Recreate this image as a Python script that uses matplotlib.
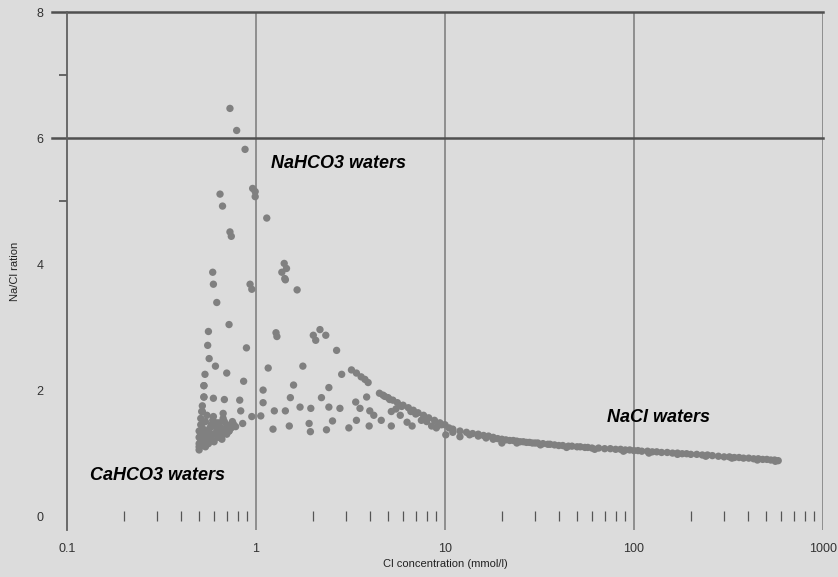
import numpy as np
import matplotlib
matplotlib.use('Agg')
import matplotlib.pyplot as plt
from matplotlib.ticker import LogLocator, FixedLocator, NullFormatter

# Cl concentration (mmol/l) and Na/Cl ratio
# spike of low-Cl samples
cl_low = [0.728, 0.79, 0.875, 0.96, 0.99, 0.99, 0.645, 0.665, 1.14, 0.728, 0.74,
          0.59, 1.41, 1.45, 1.37, 1.42, 1.43, 0.595, 0.62, 0.93, 0.95, 1.65,
          0.72, 0.56, 0.555, 0.565, 0.61, 0.89, 1.276, 1.29, 2.01, 2.07, 2.18, 2.34,
          2.67, 0.537, 0.70, 1.16, 1.77, 2.84]
ratio_low = [6.47, 6.12, 5.82, 5.20, 5.15, 5.07, 5.11, 4.92, 4.73, 4.51, 4.44,
             3.87, 4.01, 3.93, 3.87, 3.77, 3.75, 3.68, 3.39, 3.68, 3.60, 3.59,
             3.04, 2.93, 2.71, 2.50, 2.38, 2.67, 2.91, 2.85, 2.87, 2.79, 2.96, 2.87,
             2.63, 2.25, 2.27, 2.35, 2.38, 2.25]

# middle band, 0.5 - 10 mmol/l
cl_mid = [3.2, 3.4, 3.6, 3.77, 3.92, 0.53, 0.86, 1.09, 1.58, 2.43,
          4.5, 4.7, 5.0, 5.3, 5.6, 6.0, 6.4, 6.8, 7.2, 7.7, 8.2, 8.8, 9.4,
          0.53, 0.595, 0.68, 0.82, 1.09, 1.52, 2.22, 3.37, 3.55, 3.85,
          0.516, 0.67, 0.595, 0.83, 0.95, 1.06, 1.25, 1.43, 1.71, 1.95, 2.43, 2.78,
          4.0, 5.2, 5.8, 0.68, 0.76, 0.85, 0.72, 1.23, 1.50, 1.91, 1.94, 2.36, 2.54,
          3.1, 3.4, 3.97, 4.6, 5.2, 6.3, 6.7, 8.5, 7.5, 9.0, 9.6, 5.5, 4.2,
          4.8, 5.1, 5.9, 6.6, 7.0, 7.9, 8.0, 9.2]
ratio_mid = [2.32, 2.27, 2.21, 2.17, 2.12, 2.07, 2.14, 2.00, 2.08, 2.04,
             1.95, 1.92, 1.88, 1.84, 1.80, 1.76, 1.72, 1.68, 1.64, 1.60, 1.56, 1.52, 1.48,
             1.89, 1.87, 1.85, 1.84, 1.80, 1.88, 1.88, 1.81, 1.71, 1.89,
             1.66, 1.63, 1.58, 1.67, 1.58, 1.59, 1.67, 1.67, 1.73, 1.71, 1.73, 1.71,
             1.67, 1.66, 1.60, 1.50, 1.46, 1.47, 1.35, 1.38, 1.43, 1.47, 1.34, 1.37, 1.51,
             1.40, 1.52, 1.43, 1.52, 1.43, 1.49, 1.43, 1.43, 1.52, 1.40, 1.45, 1.70, 1.60,
             1.90, 1.85, 1.74, 1.66, 1.62, 1.55, 1.50, 1.44]

# dense cluster near 0.5 mmol/l
cl_cluster = [0.50, 0.50, 0.50, 0.51, 0.50, 0.51, 0.52, 0.52, 0.53, 0.53, 0.54, 0.54,
              0.55, 0.55, 0.56, 0.56, 0.57, 0.58, 0.58, 0.60, 0.60, 0.62, 0.63, 0.65,
              0.66, 0.68, 0.70, 0.72, 0.51, 0.51, 0.52, 0.52, 0.53, 0.53, 0.54, 0.55,
              0.57, 0.59, 0.61, 0.64, 0.67, 0.75, 0.78, 0.50, 0.52, 0.54, 0.56, 0.59,
              0.62, 0.66, 0.70, 0.74]
ratio_cluster = [1.05, 1.10, 1.15, 1.20, 1.25, 1.30, 1.12, 1.22, 1.18, 1.28, 1.10, 1.35,
                 1.20, 1.25, 1.15, 1.30, 1.40, 1.22, 1.45, 1.30, 1.18, 1.35, 1.25, 1.40,
                 1.30, 1.38, 1.45, 1.35, 1.45, 1.55, 1.66, 1.75, 1.89, 2.07, 1.50, 1.60,
                 1.28, 1.52, 1.42, 1.48, 1.55, 1.50, 1.42, 1.35, 1.40, 1.26, 1.36, 1.30,
                 1.48, 1.22, 1.30, 1.40]

# NaCl tail
cl_tail = [10, 10.5, 11, 12, 13, 14, 15, 16, 18, 20, 22, 24, 26, 28, 30, 33, 36, 40,
           45, 50, 55, 60, 70, 80, 90, 100, 110, 125, 140, 160, 180, 200, 230, 260,
           300, 340, 380, 430, 480, 530, 580, 10.1, 12, 20, 11, 15, 18,
           17, 19, 21, 23, 25, 27, 29, 31, 35, 38, 42, 47, 52, 57, 65, 75, 85, 95,
           105, 118, 132, 150, 170, 190, 215, 245, 280, 320, 360, 405, 455, 505, 555,
           13.5, 16.5, 24, 32, 44, 62, 88, 120, 170, 240, 330, 450, 560]
ratio_tail = [1.45, 1.40, 1.38, 1.35, 1.33, 1.31, 1.30, 1.28, 1.25, 1.22, 1.20, 1.19,
              1.18, 1.17, 1.16, 1.15, 1.14, 1.12, 1.11, 1.10, 1.09, 1.08, 1.07, 1.06,
              1.05, 1.04, 1.03, 1.02, 1.01, 1.00, 0.99, 0.98, 0.97, 0.96, 0.94, 0.93,
              0.92, 0.91, 0.90, 0.89, 0.88, 1.29, 1.26, 1.16, 1.33, 1.27, 1.22,
              1.27, 1.23, 1.21, 1.20, 1.18, 1.17, 1.16, 1.16, 1.14, 1.13, 1.12, 1.11,
              1.10, 1.09, 1.08, 1.07, 1.06, 1.05, 1.04, 1.03, 1.02, 1.01, 1.00, 0.99,
              0.98, 0.97, 0.95, 0.94, 0.93, 0.92, 0.91, 0.90, 0.89,
              1.29, 1.24, 1.16, 1.13, 1.09, 1.06, 1.03, 1.00, 0.98, 0.95, 0.92, 0.89, 0.87]

cl = cl_low + cl_mid + cl_cluster + cl_tail
ratio = ratio_low + ratio_mid + ratio_cluster + ratio_tail

bg = '#dcdcdc'
plt.rcParams['font.family'] = ['Liberation Sans', 'DejaVu Sans']

fig = plt.figure(figsize=(8.38, 5.77), dpi=100, facecolor=bg)
ax = fig.add_axes([0.080, 0.0815, 0.902, 0.8977], facecolor=bg)

ax.scatter(cl, ratio, s=28, color='#808080', edgecolors='none', zorder=3)

ax.set_xscale('log')
ax.set_xlim(0.1, 1000)
ax.set_ylim(-0.22, 8)

# decade lines and the two horizontal lines
for xv in [1, 10, 100, 1000]:
    ax.axvline(xv, color='#888888', lw=1.3, zorder=1)
for yv in [6, 8]:
    ax.axhline(yv, xmin=-0.02, xmax=1, color='#505050', lw=1.8, clip_on=False, zorder=2)

for side in ['top', 'right', 'bottom']:
    ax.spines[side].set_visible(False)
ax.spines['left'].set_color('#606060')
ax.spines['left'].set_linewidth(1.3)
ax.spines['bottom'].set_position(('data', 0))

ax.set_xticks([0.1, 1, 10, 100, 1000])
ax.set_xticklabels(['0.1', '1', '10', '100', '1000'])
ax.xaxis.set_minor_locator(LogLocator(base=10, subs=np.arange(2, 10), numticks=20))
ax.xaxis.set_minor_formatter(NullFormatter())
ax.tick_params(axis='x', which='major', length=0, pad=19, labelsize=9, labelcolor='#333333')
ax.tick_params(axis='x', which='minor', direction='inout', length=6.5, width=0.9, color='#555555')

ax.set_yticks([0, 2, 4, 6, 8])
ax.yaxis.set_minor_locator(FixedLocator([5, 7]))
ax.tick_params(axis='y', which='major', length=0, pad=17, labelsize=9, labelcolor='#333333')
ax.tick_params(axis='y', which='minor', length=5.5, width=1.2, color='#505050')

ax.set_xlabel('Cl concentration (mmol/l)', fontsize=8, color='#222222', labelpad=3)
ax.set_ylabel('Na/Cl ration', fontsize=8, color='#222222', labelpad=12)

ax.text(1.2, 5.6, 'NaHCO3 waters', fontsize=13, fontweight='bold', fontstyle='italic',
        va='center')
ax.text(72, 1.57, 'NaCl waters', fontsize=13, fontweight='bold', fontstyle='italic',
        va='center')
ax.text(0.132, 0.65, 'CaHCO3 waters', fontsize=13, fontweight='bold', fontstyle='italic',
        va='center')

fig.savefig('out.png', dpi=100, facecolor=bg)
